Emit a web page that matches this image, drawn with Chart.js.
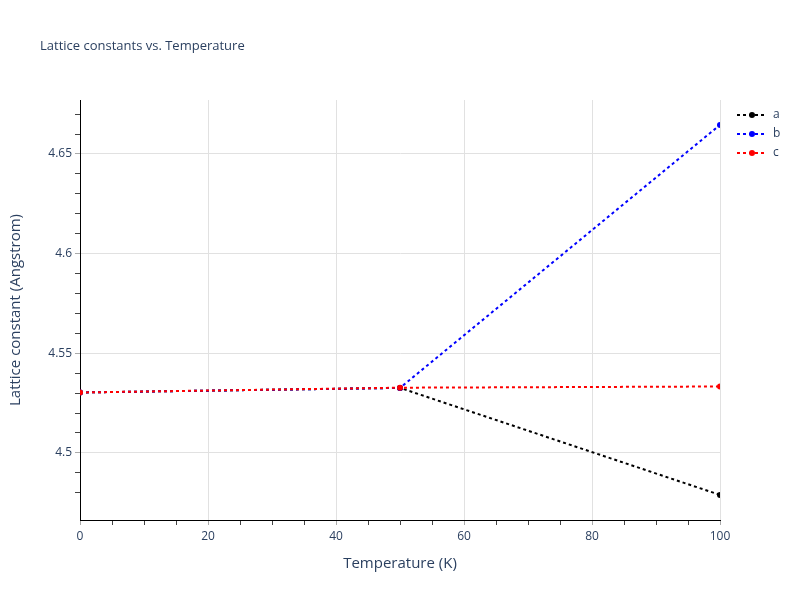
<!DOCTYPE html>
<html>
<head>
<meta charset="utf-8">
<script src="https://cdn.jsdelivr.net/npm/chart.js@4"></script>
<style>
  body { margin: 0; background: #fff; }
</style>
</head>
<body>
<canvas id="latticeChart" width="800" height="600"></canvas>
<script>
const temperatures = [0, 50, 100];
const seriesA = [4.5303, 4.5326, 4.4789];
const seriesB = [4.5303, 4.5326, 4.6646];
const seriesC = [4.5303, 4.5327, 4.5333];
const seriesNames = ['a', 'b', 'c'];
const seriesColors = ['black', 'blue', 'red'];

const textColor = '#2a3f5f';
const gridColor = '#e1e1e1';
const font = "'Open Sans', verdana, arial, sans-serif";

function toPoints(vals) {
  return temperatures.map((t, i) => ({ x: t, y: vals[i] }));
}

function isMult(v, step) {
  const r = v / step;
  return Math.abs(r - Math.round(r)) < 1e-6;
}

// plot title + legend drawn like plotly does
const extras = {
  id: 'extras',
  afterDraw(chart) {
    const c = chart.ctx;
    c.save();
    c.fillStyle = textColor;
    c.font = '13px ' + font;
    c.textBaseline = 'middle';
    c.fillText('Lattice constants vs. Temperature', 40, 46);

    chart.data.datasets.forEach((ds, i) => {
      const y = 115 + i * 19;
      c.strokeStyle = ds.borderColor;
      c.lineWidth = 2;
      c.setLineDash([3, 3]);
      c.beginPath();
      c.moveTo(737, y);
      c.lineTo(767, y);
      c.stroke();
      c.setLineDash([]);
      c.fillStyle = ds.borderColor;
      c.beginPath();
      c.arc(752, y, 3, 0, Math.PI * 2);
      c.fill();
      c.fillStyle = textColor;
      c.font = '12px ' + font;
      c.fillText(ds.label, 773, y);
    });
    c.restore();
  }
};

const ctx = document.getElementById('latticeChart').getContext('2d');
const chart = new Chart(ctx, {
  type: 'line',
  data: {
    datasets: [seriesA, seriesB, seriesC].map((vals, i) => ({
      label: seriesNames[i],
      data: toPoints(vals),
      borderColor: seriesColors[i],
      backgroundColor: seriesColors[i],
      borderWidth: 2,
      borderDash: [3, 3],
      pointRadius: 3,
      pointBorderWidth: 0,
      pointHoverRadius: 3,
      tension: 0,
      fill: false,
      order: 3 - i
    }))
  },
  options: {
    responsive: false,
    animation: false,
    layout: { padding: { left: 0, right: 80, top: 100, bottom: 0 } },
    plugins: {
      legend: { display: false },
      tooltip: { enabled: false }
    },
    scales: {
      x: {
        type: 'linear',
        min: 0,
        max: 100,
        afterFit(scale) { scale.height = 80; },
        border: { color: '#000', width: 1 },
        grid: {
          color: c => isMult(c.tick.value, 20) ? gridColor : 'rgba(0,0,0,0)',
          tickColor: c => isMult(c.tick.value, 20) ? '#aaa' : '#444',
          tickLength: 5,
          lineWidth: 1
        },
        ticks: {
          stepSize: 5,
          autoSkip: false,
          maxRotation: 0,
          color: textColor,
          padding: 4,
          font: { family: font, size: 12 },
          callback: v => isMult(v, 20) ? String(v) : ''
        },
        title: {
          display: true,
          text: 'Temperature (K)',
          color: textColor,
          font: { family: font, size: 15 },
          padding: { top: 0, bottom: 27 }
        }
      },
      y: {
        type: 'linear',
        min: 4.4663,
        max: 4.6771,
        afterFit(scale) { scale.width = 80; },
        border: { color: '#000', width: 1 },
        grid: {
          color: c => isMult(c.tick.value, 0.05) ? gridColor : 'rgba(0,0,0,0)',
          tickColor: c => isMult(c.tick.value, 0.05) ? '#aaa' : (isMult(c.tick.value, 0.01) ? '#444' : 'rgba(0,0,0,0)'),
          tickLength: 5,
          lineWidth: 1
        },
        ticks: {
          stepSize: 0.01,
          autoSkip: false,
          color: textColor,
          padding: 3,
          font: { family: font, size: 12 },
          callback: v => isMult(v, 0.05) ? String(Math.round(v * 100) / 100) : ''
        },
        title: {
          display: true,
          text: 'Lattice constant (Angstrom)',
          color: textColor,
          font: { family: font, size: 15 },
          padding: { top: 7, bottom: 0 }
        }
      }
    }
  },
  plugins: [extras]
});
</script>
</body>
</html>
